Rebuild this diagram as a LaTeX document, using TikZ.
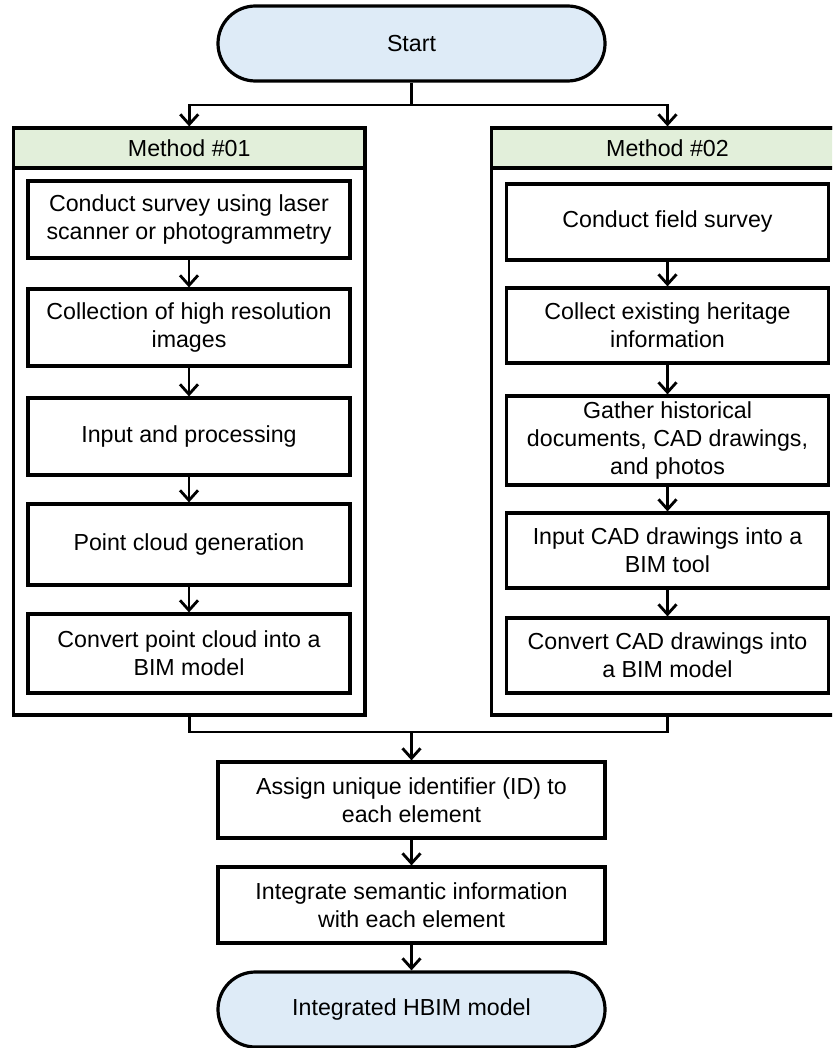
\documentclass[tikz,border=0pt]{standalone}
\usepackage{fontspec}
\setmainfont{Liberation Sans}
\usetikzlibrary{arrows.meta,positioning}
\definecolor{startblue}{RGB}{222, 235, 247}
\definecolor{headgreen}{RGB}{226, 239, 218}

\begin{document}
\begin{tikzpicture}[x=0.5pt,y=-0.5pt,
  every node/.style={font=\fontsize{11.6}{14}\selectfont, align=center, inner sep=0pt},
  terminal/.style={draw, line width=1.6pt, fill=startblue, rounded corners=18.7pt, minimum width=193.5pt, minimum height=37.5pt},
  stepbox/.style={draw, line width=1.6pt, fill=white, minimum width=161pt},
  panel/.style={draw, line width=1.6pt, minimum width=175.75pt, minimum height=293.5pt},
  header/.style={draw, line width=1.6pt, fill=headgreen, minimum width=175.75pt, minimum height=20pt, anchor=north},
  arr/.style={line width=1.4pt, -{Straight Barb[length=5pt,width=9pt]}},
  link/.style={line width=1.4pt}]
\clip (0,0) rectangle (832,1048);

\node [terminal] (start) at (411.5,43.5) {Start};

% the two methods
\node [panel] (pl) at (189.25,421.5) {};
\node [header] (hl) at (pl.north) {Method \#01};
\node [panel] (pr) at (667.5,421.5) {};
\node [header] (hr) at (pr.north) {Method \#02};

\coordinate (split) at (411.5,105);
\draw [link] (start) -- (split);
\draw [arr] (split) -| (hl.north);
\draw [arr] (split) -| (hr.north);

% method 1
\node [stepbox, minimum height=38.5pt] (l1) at (189,219.5) {Conduct survey using laser\\scanner or photogrammetry};
\node [stepbox, minimum height=38.5pt] (l2) at (189,327.5) {Collection of high resolution\\images};
\node [stepbox, minimum height=38.5pt] (l3) at (189,436.5) {Input and processing};
\node [stepbox, minimum height=40.5pt] (l4) at (189,544.5) {Point cloud generation};
\node [stepbox, minimum height=39.5pt] (l5) at (189,653.5) {Convert point cloud into a\\BIM model};
\draw [arr] (l1) -- (l2);
\draw [arr] (l2) -- (l3);
\draw [arr] (l3) -- (l4);
\draw [arr] (l4) -- (l5);

% method 2
\node [stepbox, minimum height=38pt] (r1) at (667.5,222) {Conduct field survey};
\node [stepbox, minimum height=37.5pt] (r2) at (667.5,325.5) {Collect existing heritage\\information};
\node [stepbox, minimum height=44.5pt] (r3) at (667.5,440.5) {Gather historical\\documents, CAD drawings,\\and photos};
\node [stepbox, minimum height=37.5pt] (r4) at (667.5,550.5) {Input CAD drawings into a\\BIM tool};
\node [stepbox, minimum height=37.5pt] (r5) at (667.5,655.5) {Convert CAD drawings into\\a BIM model};
\draw [arr] (r1) -- (r2);
\draw [arr] (r2) -- (r3);
\draw [arr] (r3) -- (r4);
\draw [arr] (r4) -- (r5);

% common steps
\coordinate (join) at (411.5,732);
\draw [link] (pl.south) |- (join) -| (pr.south);
\node [stepbox, minimum width=193.5pt, minimum height=38pt] (assign) at (411.5,800) {Assign unique identifier (ID) to\\each element};
\node [stepbox, minimum width=193.5pt, minimum height=38pt] (integ) at (411.5,905) {Integrate semantic information\\with each element};
\node [terminal] (finish) at (411.5,1009.5) {Integrated HBIM model};
\draw [arr] (join) -- (assign);
\draw [arr] (assign) -- (integ);
\draw [arr] (integ) -- (finish);
\end{tikzpicture}
\end{document}
